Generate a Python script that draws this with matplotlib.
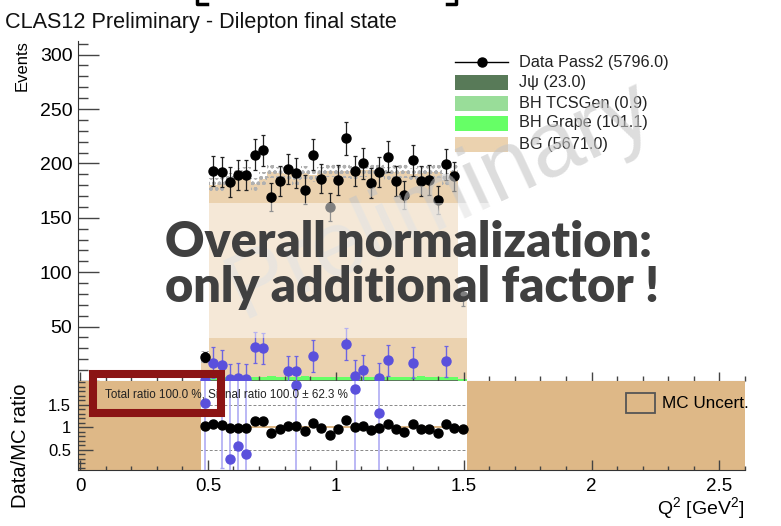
import numpy as np
import matplotlib.pyplot as plt
from matplotlib.patches import Rectangle
from matplotlib.lines import Line2D
from matplotlib.ticker import MultipleLocator, FixedLocator, FuncFormatter

plt.rcParams['font.family'] = ['Liberation Sans', 'DejaVu Sans']
plt.rcParams['mathtext.fontset'] = 'custom'
plt.rcParams['mathtext.rm'] = 'Liberation Sans'
plt.rcParams['mathtext.it'] = 'Liberation Sans:italic'
plt.rcParams['hatch.color'] = '#b0b0b0'

# Q^2 binning (GeV^2)
bin_lo = 0.472
bin_w = 0.0325
n_bins = 32

# event counts per bin
data_counts = [22, 193, 192, 183, 189, 189, 208, 212, 169, 184, 195, 191, 176, 208, 186, 160,
               185, 223, 193, 200, 182, 192, 206, 184, 171, 203, 184, 185, 166, 199, 188, 78]
bg = [21, 176, 177, 181, 186, 187, 177, 182, 188, 187, 186, 182, 187, 185, 187, 189,
      188, 189, 188, 190, 190, 189, 187, 188, 189, 186, 187, 188, 188, 181, 189, 79]
bh_grape = [0.5, 3.4, 3.2, 3.3, 3.1, 3.4, 3.2, 3.3, 3.5, 3.2, 3.3, 3.1, 3.4, 3.3, 3.2, 3.3,
            3.4, 3.2, 3.3, 3.1, 3.3, 3.4, 3.2, 3.3, 3.2, 3.3, 3.4, 3.1, 3.3, 3.2, 3.3, 1.6]
bh_tcsgen = [0.0, 0.03, 0.03, 0.02, 0.03, 0.03, 0.03, 0.02, 0.03, 0.03, 0.03, 0.03, 0.02, 0.03, 0.03, 0.03,
             0.03, 0.03, 0.03, 0.02, 0.03, 0.03, 0.03, 0.03, 0.03, 0.02, 0.03, 0.03, 0.03, 0.03, 0.03, 0.01]
jpsi = [0.1, 0.7, 0.8, 0.7, 0.8, 0.7, 0.8, 0.7, 0.8, 0.7, 0.8, 0.7, 0.8, 0.8, 0.7, 0.8,
        0.7, 0.8, 0.7, 0.8, 0.7, 0.8, 0.7, 0.8, 0.8, 0.7, 0.8, 0.7, 0.8, 0.7, 0.8, 0.3]
mc_err = 6.0        # MC stat. uncertainty (events)
mc_rel_err = 0.025  # relative MC uncertainty in the ratio

# signal ratio points shown in the lower pad
sig_bins = [0, 2, 3, 4, 5, 11, 18, 21]
sig_ratio = [1.53, 2.6, 0.30, 0.58, 0.41, 1.95, 1.86, 1.32]
sig_ratio_err = [2.6, 2.5, 2.6, 2.6, 2.6, 2.6, 2.6, 2.6]

legend_labels = ['Data Pass2 (5796.0)', 'J\u03c8 (23.0)', 'BH TCSGen (0.9)',
                 'BH Grape (101.1)', 'BG (5671.0)']
legend_colors = ['black', '#587a58', '#99dd99', '#66ff66', '#ebd2af']

W, H = 781, 526
def fx(p):
    return p / W
def fy(p):
    return 1 - p / H

edges = bin_lo + bin_w * np.arange(n_bins + 1)
centers = edges[:-1] + bin_w / 2
data_counts = np.array(data_counts, float)
bg = np.array(bg, float)
s1 = np.array(jpsi)
s2 = s1 + np.array(bh_tcsgen)
s3 = s2 + np.array(bh_grape)
mc_total = s3 + bg
ratio = data_counts / mc_total
excess = data_counts - bg

blue = '#5a50dc'
burly = '#deb887'
xmin, xmax = -0.008, 2.6

fig = plt.figure(figsize=(7.81, 5.26), dpi=100)
ax = fig.add_axes([fx(78), fy(381), 667 / W, 340 / H])
rax = fig.add_axes([fx(78), fy(470), 667 / W, 89 / H])

# --- upper pad: stacked MC + data
ax.stairs(s1, edges, fill=True, color=legend_colors[1], lw=0)
ax.stairs(s2, edges, baseline=s1, fill=True, color=legend_colors[2], lw=0)
ax.stairs(s3, edges, baseline=s2, fill=True, color=legend_colors[3], lw=0)
ax.stairs(mc_total, edges, baseline=s3, fill=True, color=legend_colors[4], lw=0)
ax.stairs(mc_total + mc_err, edges, baseline=mc_total - mc_err, fill=True,
          facecolor='none', edgecolor='#b0b0b0', hatch='ooo', lw=0)

ax.errorbar(centers, data_counts, yerr=np.sqrt(data_counts), fmt='o', color='black',
            ms=6.5, ecolor='#222222', elinewidth=0.9, capsize=1.3, capthick=0.9, zorder=5)
pos = excess > 0
ax.errorbar(centers[pos], excess[pos], yerr=np.sqrt(data_counts[pos]), fmt='o', color=blue,
            ms=6.5, ecolor='#6c64e2', elinewidth=1.0, capsize=1.3, capthick=0.9, zorder=4)

ax.set_xlim(xmin, xmax)
ax.set_ylim(0, 312.5)
for s in ['top', 'right']:
    ax.spines[s].set_visible(False)
ax.spines['left'].set_color('#333333')
ax.spines['bottom'].set_color('#999999')
ax.yaxis.set_major_locator(MultipleLocator(50))
ax.yaxis.set_minor_locator(MultipleLocator(10))
ax.yaxis.set_major_formatter(FuncFormatter(lambda v, p: '' if v == 0 else '%g' % v))
ax.xaxis.set_major_locator(MultipleLocator(0.5))
ax.xaxis.set_minor_locator(MultipleLocator(0.1))
ax.tick_params(axis='y', which='major', direction='in', length=15, width=1, color='#444444',
               labelsize=14, pad=4)
ax.tick_params(axis='y', which='minor', direction='in', length=7.2, width=1, color='#444444')
ax.tick_params(axis='x', which='major', direction='in', length=6.5, width=1, color='#444444',
               labelbottom=False)
ax.tick_params(axis='x', which='minor', direction='in', length=3.6, width=1, color='#444444')

# --- lower pad: data/MC ratio
rax.axhline(0.5, color='#888888', lw=0.7, ls=(0, (3, 2)), zorder=0)
rax.axhline(1.5, color='#888888', lw=0.7, ls=(0, (3, 2)), zorder=0)
rax.axvspan(xmin, edges[0], color=burly, lw=0, zorder=1)
rax.axvspan(edges[-1], xmax, color=burly, lw=0, zorder=1)
rax.stairs(1 + mc_rel_err * np.ones(n_bins), edges, baseline=1 - mc_rel_err * np.ones(n_bins),
           fill=True, color=burly, lw=0, zorder=1)
rax.errorbar(centers[sig_bins], sig_ratio, yerr=sig_ratio_err, fmt='o', color=blue, ms=6.5,
             ecolor='#a8a4f2', elinewidth=1.1, capsize=1.3, capthick=1.0, zorder=3)
rax.plot(centers, ratio, 'o', color='black', ms=6.5, zorder=4)

rax.set_xlim(xmin, xmax)
rax.set_ylim(0.05, 2.03)
for s in ['top', 'right']:
    rax.spines[s].set_visible(False)
rax.spines['left'].set_color('#333333')
rax.spines['bottom'].set_color('#333333')
rax.yaxis.set_major_locator(FixedLocator([0.5, 1.0, 1.5]))
rax.yaxis.set_minor_locator(MultipleLocator(0.1))
rax.yaxis.set_major_formatter(FuncFormatter(lambda v, p: '%g' % v))
rax.xaxis.set_major_locator(MultipleLocator(0.5))
rax.xaxis.set_minor_locator(MultipleLocator(0.1))
rax.xaxis.set_major_formatter(FuncFormatter(lambda v, p: '%g' % v))
rax.tick_params(axis='y', which='major', direction='in', length=11, width=1, color='#444444',
                labelsize=12, pad=5)
rax.tick_params(axis='y', which='minor', direction='in', length=5, width=1, color='#444444')
rax.tick_params(axis='x', which='major', direction='in', length=7, width=1, color='#444444',
                labelsize=13.5, pad=6)
rax.tick_params(axis='x', which='minor', direction='in', length=3, width=1, color='#444444')

# titles and axis labels
fig.text(fx(5), fy(28), 'CLAS12 Preliminary - Dilepton final state', fontsize=15.6,
         ha='left', va='baseline', color='#111111')
fig.text(fx(22), fy(40), 'Events', rotation=90, fontsize=12, ha='center', va='top')
fig.text(fx(21), fy(446), 'Data/MC ratio', rotation=90, fontsize=14.5, ha='center', va='center')
fig.text(fx(745), fy(514), r'Q$^{2}$ [GeV$^{2}$]', fontsize=14, ha='right', va='baseline')

# legend of the upper pad
leg_y = [62, 82, 103, 123, 144]
fig.add_artist(Line2D([fx(455), fx(508)], [fy(leg_y[0])] * 2, color='black', lw=1, zorder=9))
fig.add_artist(Line2D([fx(482)], [fy(leg_y[0])], marker='o', ms=6.5, color='black', zorder=9))
for i in range(1, 5):
    fig.add_artist(Rectangle((fx(455), fy(leg_y[i] + 7.5)), 53 / W, 15 / H,
                             facecolor=legend_colors[i], lw=0, zorder=9))
for i, lab in enumerate(legend_labels):
    fig.text(fx(519), fy(leg_y[i]), lab, fontsize=11.7, ha='left', va='center',
             color='#222222', zorder=9)

# MC uncertainty legend of the lower pad
fig.add_artist(Rectangle((fx(626), fy(413)), 29 / W, 20 / H, facecolor=burly,
                         edgecolor='#555555', lw=1.3, zorder=9))
fig.text(fx(662), fy(403), 'MC Uncert.', fontsize=12.3, ha='left', va='center', zorder=9)
fig.text(fx(105), fy(395), 'Total ratio 100.0 %, Signal ratio 100.0 \u00b1 62.3 %',
         fontsize=8.4, ha='left', va='center', color='#222222', zorder=9)

# watermark
fig.text(fx(440), fy(200), 'Preliminary', rotation=25, fontsize=66, color='#c6c6c6',
         alpha=0.6, ha='center', va='center', rotation_mode='anchor', zorder=10)

# annotation box on top of the plot
fig.add_artist(Rectangle((fx(150), fy(338)), 540 / W, 135 / H, facecolor='white',
                         alpha=0.5, lw=0, zorder=11))
for txt, base in [('Overall normalization:', 257), ('only additional factor !', 302)]:
    fig.text(fx(165), fy(base), txt, family=['Lato', 'DejaVu Sans'], fontweight='heavy',
             fontsize=35, color='#404040', ha='left', va='baseline', zorder=12)
fig.add_artist(Rectangle((fx(93), fy(413)), 128 / W, 39 / H, fill=False,
                         edgecolor='#8b1414', lw=5.8, zorder=13))

# bracket ends of the slide heading
for xs, ys in [([197, 197, 207], [0, 4, 4]), ([447, 456, 456], [4, 4, 0])]:
    fig.add_artist(Line2D([fx(v) for v in xs], [fy(v) for v in ys], color='black',
                          lw=2.5, zorder=13))

fig.savefig('out.png', dpi=100)
